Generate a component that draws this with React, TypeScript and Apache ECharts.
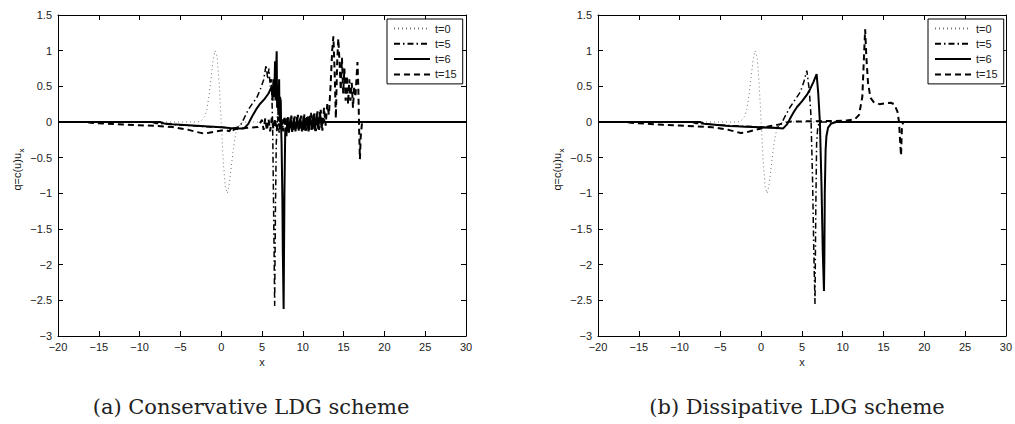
import React, { useEffect, useRef } from "react";
import * as echarts from "echarts";

type P = [number, number];

const xTicks = { min: -20, max: 30, interval: 5 };
const yTicks = { min: -3, max: 1.5, interval: 0.5 };
const seriesNames = ["t=0", "t=5", "t=6", "t=15"];
const captions = ["(a) Conservative LDG scheme", "(b) Dissipative LDG scheme"];
const yLabelMain = "q=c(u)u";
const yLabelSub = "x";
const xLabel = "x";

// initial condition (same in both panels)
const t0: P[] = [
  [-20, 0], [-3, 0], [-2.5, 0.01], [-2, 0.08], [-1.75, 0.18], [-1.5, 0.37], [-1.25, 0.61],
  [-1, 0.86], [-0.75, 1.0], [-0.5, 0.91], [-0.25, 0.55], [0, 0], [0.25, -0.55], [0.5, -0.91],
  [0.75, -1.0], [1, -0.86], [1.25, -0.61], [1.5, -0.37], [1.75, -0.18], [2, -0.08],
  [2.5, -0.01], [3, 0], [30, 0],
];

// (a) conservative
const aT5: P[] = [
  [-20, 0], [-8.5, 0], [-8, -0.02], [-6, -0.035], [-4, -0.05], [-2, -0.065], [0, -0.075],
  [1, -0.08], [1.7, -0.085], [2.3, -0.06], [2.8, 0.05], [3.3, 0.17], [3.9, 0.27], [4.4, 0.35],
  [4.8, 0.46], [5.2, 0.59], [5.5, 0.8], [5.7, 0.6], [5.85, 0.75], [6.0, 0.5], [6.15, 0.6],
  [6.3, 0.0], [6.4, -1.0], [6.5, -2.0], [6.55, -2.58], [6.65, -1.2], [6.75, -0.3], [6.9, 0.08],
  [7.1, -0.15], [7.3, 0.06], [7.5, -0.12], [7.7, 0.05], [7.9, -0.12], [8.1, 0.06], [8.3, -0.1],
  [8.5, 0.05], [8.7, -0.1], [8.9, 0.05], [9.1, -0.08], [9.4, 0.03], [9.8, -0.04], [10.2, 0],
  [30, 0],
];
const aT6: P[] = [
  [-20, 0], [-7.5, 0], [-7, -0.02], [-6, -0.03], [-4, -0.045], [-2, -0.06], [0, -0.075],
  [1, -0.085], [2, -0.09], [2.8, -0.09], [3.3, -0.03], [3.8, 0.08], [4.3, 0.18], [4.8, 0.26],
  [5.3, 0.32], [5.8, 0.4], [6.2, 0.5], [6.3, 0.3], [6.4, 0.6], [6.5, 0.35], [6.6, 0.85],
  [6.65, 0.3], [6.7, 0.6], [6.8, 0.99], [6.85, 0.2], [6.9, 0.5], [7.0, 0.1], [7.1, 0.6],
  [7.15, 0.0], [7.2, 0.35], [7.3, 0.3], [7.35, -0.1], [7.4, -0.3],
  [7.5, -1.1], [7.55, -1.8], [7.65, -2.62], [7.75, -1.0], [7.85, -0.1], [8.0, -0.2],
  [8.1, 0.05], [8.3, -0.15], [8.5, 0.06], [8.7, -0.14], [8.9, 0.05], [9.1, -0.13], [9.3, 0.07],
  [9.5, -0.12], [9.7, 0.06], [9.9, -0.13], [10.1, 0.08], [10.3, -0.12], [10.5, 0.07],
  [10.7, -0.13], [10.9, 0.09], [11.1, -0.11], [11.3, 0.1], [11.5, -0.12], [11.7, 0.12],
  [11.9, -0.1], [12.1, 0.14], [12.3, -0.08], [12.5, 0.05], [12.7, 0], [30, 0],
];
const aT15: P[] = [
  [-20, 0], [-16.5, 0], [-16, -0.01], [-14, -0.025], [-12, -0.035], [-10, -0.045], [-8, -0.055],
  [-6, -0.07], [-4, -0.11], [-3, -0.14], [-2.2, -0.16], [-1.5, -0.15], [-0.5, -0.13],
  [0.5, -0.11], [1.0, -0.13], [1.2, -0.09], [1.4, -0.13], [1.6, -0.1], [2.5, -0.09],
  [3.5, -0.08], [4.5, -0.07],
  [5.0, 0.03], [5.2, -0.11], [5.4, 0.05], [5.6, -0.12], [5.8, 0.04], [6.0, -0.13], [6.2, 0.06],
  [6.4, -0.1], [6.6, 0.05], [6.8, -0.12], [7.0, 0.07], [7.2, -0.11], [7.4, 0.06], [7.6, -0.13],
  [7.8, 0.08], [8.0, -0.12], [8.2, 0.07], [8.4, -0.11], [8.6, 0.09], [8.8, -0.13], [9.0, 0.08],
  [9.2, -0.12], [9.4, 0.1], [9.6, -0.11], [9.8, 0.09], [10.0, -0.13], [10.2, 0.11], [10.4, -0.12],
  [10.6, 0.1], [10.8, -0.11], [11.0, 0.13], [11.2, -0.12], [11.4, 0.12], [11.6, -0.13],
  [11.8, 0.15], [12.0, -0.11], [12.2, 0.17], [12.4, -0.12], [12.6, 0.2], [12.8, -0.05],
  [13.0, 0.25], [13.2, 0.1], [13.4, 0.5], [13.6, 1.0], [13.75, 1.2], [13.9, 0.7], [14.05, 0.05],
  [14.2, 0.8], [14.35, 1.17], [14.5, 0.85], [14.65, 0.45], [14.8, 0.9], [14.95, 0.4],
  [15.1, 0.75], [15.25, 0.3], [15.4, 0.65], [15.55, 0.25], [15.7, 0.6], [15.85, 0.3],
  [16.0, 0.55], [16.15, 0.2], [16.3, 0.5], [16.45, 0.35], [16.6, 0.65], [16.7, 0.84],
  [16.8, 0.5], [16.9, -0.1], [17.0, -0.52], [17.1, -0.2], [17.25, -0.02], [17.5, 0], [30, 0],
];

// (b) dissipative
const bT5: P[] = [
  [-20, 0], [-8.5, 0], [-8, -0.02], [-6, -0.035], [-4, -0.05], [-2, -0.06], [0, -0.07],
  [1, -0.075], [1.8, -0.08], [2.3, -0.06], [2.8, 0.05], [3.5, 0.2], [4.2, 0.32], [4.8, 0.42],
  [5.2, 0.55], [5.6, 0.72], [5.9, 0.45], [6.1, 0.1], [6.3, -0.8], [6.45, -1.8], [6.6, -2.55],
  [6.7, -1.2], [6.8, -0.3], [6.95, -0.05], [7.3, 0], [30, 0],
];
const bT6: P[] = [
  [-20, 0], [-7.5, 0], [-7, -0.025], [-6, -0.035], [-5, -0.045], [-4, -0.055], [-3, -0.06],
  [-2, -0.065], [-1, -0.07], [0, -0.075], [1, -0.08], [2, -0.085], [2.7, -0.09], [3.2, -0.03],
  [3.6, 0.06], [4.0, 0.14], [4.4, 0.21], [5.0, 0.29], [5.6, 0.38], [6.0, 0.46], [6.4, 0.56],
  [6.8, 0.67], [7.0, 0.4], [7.2, 0.0], [7.4, -0.9], [7.55, -1.8], [7.7, -2.37], [7.75, -1.9],
  [7.8, -1.0], [7.9, -0.4], [8.0, -0.2], [8.2, -0.08], [8.6, -0.02], [9.2, 0], [30, 0],
];
const bT15: P[] = [
  [-20, 0], [-16.5, 0], [-16, -0.01], [-14, -0.025], [-12, -0.04], [-10, -0.05], [-8, -0.06],
  [-6, -0.075], [-5, -0.09], [-4, -0.11], [-3, -0.14], [-2.5, -0.155], [-2, -0.15], [-1, -0.12],
  [0, -0.09], [1, -0.06], [2, -0.04], [3, -0.01], [3.5, 0.005], [6, 0.01], [9, 0.015],
  [10.5, 0.02], [11.5, 0.04], [12, 0.1], [12.4, 0.35], [12.6, 0.9], [12.75, 1.3], [12.9, 0.9],
  [13.1, 0.55], [13.4, 0.34], [13.8, 0.28], [14.5, 0.25], [15.2, 0.26], [15.9, 0.27],
  [16.3, 0.25], [16.7, 0.15], [16.9, 0.0], [17.05, -0.3], [17.15, -0.47], [17.25, -0.1],
  [17.4, 0], [30, 0],
];

const panels: P[][][] = [
  [t0, aT5, aT6, aT15],
  [t0, bT5, bT6, bT15],
];

const styles = [
  { color: "#777", width: 1, type: [1, 3] as any },
  { color: "#000", width: 1.5, type: [6, 3, 1.5, 3] as any },
  { color: "#000", width: 2, type: "solid" as any },
  { color: "#000", width: 2, type: [6, 4] as any },
];

const FONT = "'Liberation Sans', Arial, sans-serif";
const fmt = (v: number) => String(v).replace("-", "\u2212");

export default function App() {
  const ref = useRef<HTMLDivElement>(null);
  useEffect(() => {
    if (!ref.current) return;
    const chart = echarts.init(ref.current, undefined, { renderer: "svg" });
    const gridLefts = [58, 598];
    const grids = gridLefts.map((l) => ({ left: l, top: 15, width: 408, height: 321 }));
    const xAxes: any[] = [];
    const yAxes: any[] = [];
    gridLefts.forEach((_, gi) => {
      const common = {
        gridIndex: gi,
        type: "value",
        axisLine: { show: true, onZero: false, lineStyle: { color: "#000", width: 1 } },
        axisTick: { show: true, inside: true, length: 5, lineStyle: { color: "#000" } },
        splitLine: { show: false },
      };
      xAxes.push({
        ...common,
        position: "bottom",
        ...xTicks,
        axisLabel: { color: "#222", fontFamily: FONT, fontSize: 11, margin: 5, formatter: fmt },
        name: xLabel,
        nameLocation: "middle",
        nameGap: 20,
        nameTextStyle: { color: "#222", fontFamily: FONT, fontSize: 11 },
      });
      xAxes.push({ ...common, position: "top", ...xTicks, axisLabel: { show: false } });
      yAxes.push({
        ...common,
        position: "left",
        ...yTicks,
        axisLabel: { color: "#222", fontFamily: FONT, fontSize: 11, margin: 6, formatter: fmt },
      });
      yAxes.push({ ...common, position: "right", ...yTicks, axisLabel: { show: false } });
    });
    const series: any[] = [];
    panels.forEach((data, gi) => {
      data.forEach((d, si) => {
        series.push({
          type: "line",
          name: seriesNames[si],
          xAxisIndex: gi * 2,
          yAxisIndex: gi * 2,
          data: d,
          symbol: "none",
          showSymbol: false,
          lineStyle: styles[si],
          itemStyle: { color: styles[si].color },
          z: 2 + si,
        });
      });
    });
    const legendLefts = [387, 928];
    const legends = legendLefts.map((l) => ({
      left: l,
      top: 19,
      orient: "vertical",
      data: seriesNames,
      itemWidth: 36,
      itemHeight: 10,
      itemGap: 4.3,
      padding: [4, 6, 4, 6],
      borderColor: "#000",
      borderWidth: 1,
      backgroundColor: "#fff",
      selectedMode: false,
      itemStyle: { opacity: 0 },
      textStyle: { color: "#222", fontFamily: FONT, fontSize: 11 },
    }));
    const yLabels = gridLefts.map((l) => ({
      type: "group",
      x: l - 41,
      y: 156,
      rotation: Math.PI / 2,
      children: [
        {
          type: "text",
          x: 3,
          y: 0,
          style: {
            text: yLabelMain,
            fill: "#111",
            font: "11px " + FONT,
            textAlign: "right",
            textVerticalAlign: "middle",
          },
        },
        {
          type: "text",
          x: 3.5,
          y: 4,
          style: {
            text: yLabelSub,
            fill: "#111",
            font: "8px " + FONT,
            textAlign: "left",
            textVerticalAlign: "middle",
          },
        },
      ],
    }));
    chart.setOption({
      animation: false,
      backgroundColor: "#fff",
      grid: grids,
      xAxis: xAxes,
      yAxis: yAxes,
      legend: legends,
      series,
      graphic: [
        ...yLabels,
        ...captions.map((c, i) => ({
          type: "text",
          x: [251, 797][i],
          y: 407,
          style: {
            text: c,
            fill: "#222",
            font: "21px 'DejaVu Serif', serif",
            textAlign: "center",
            textVerticalAlign: "middle",
          },
        })),
      ],
    });
    return () => chart.dispose();
  }, []);
  return (
    <div
      ref={ref}
      style={{ position: "fixed", left: 0, top: 0, width: 1015, height: 424, background: "#fff" }}
    />
  );
}
